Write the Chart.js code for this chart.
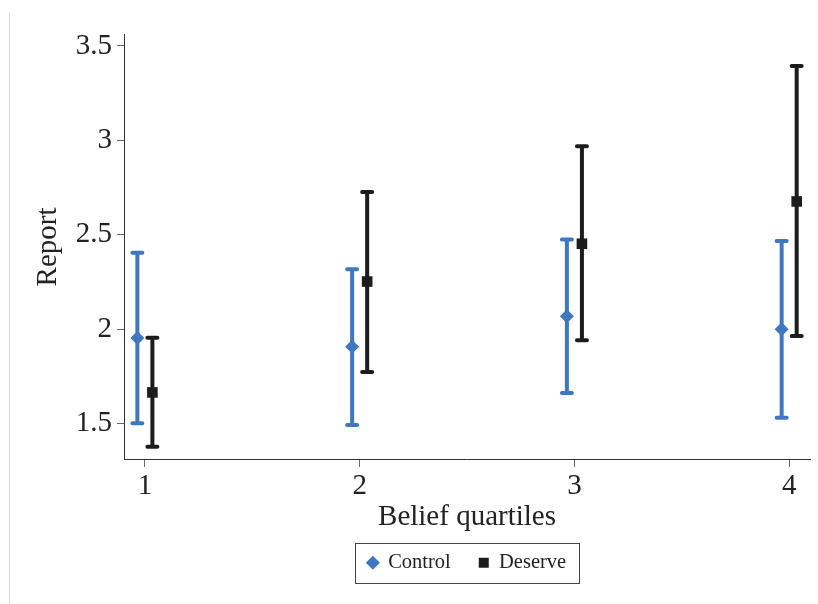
<!DOCTYPE html>
<html>
<head>
<meta charset="utf-8">
<script src="https://cdn.jsdelivr.net/npm/chart.js@4.4.0/dist/chart.umd.min.js"></script>
<style>
  body { margin: 0; background: #fff; }
  #wrap { position: relative; width: 818px; height: 604px; }
  #edge { position: absolute; left: 9px; top: 12px; bottom: 0; border-left: 1px solid #dcdcdc; }
</style>
</head>
<body>
<div id="wrap">
  <div id="edge"></div>
  <canvas id="chart"></canvas>
</div>
<script>
// values
const quartiles = [1, 2, 3, 4];
const yTicks = [1.5, 2, 2.5, 3, 3.5];

const controlMean = [1.954, 1.908, 2.069, 2.000];
const controlLow  = [1.503, 1.494, 1.663, 1.532];
const controlHigh = [2.405, 2.318, 2.476, 2.467];

const deserveMean = [1.666, 2.253, 2.453, 2.677];
const deserveLow  = [1.378, 1.774, 1.942, 1.965];
const deserveHigh = [1.956, 2.727, 2.969, 3.394];

const blue = '#3f77c0';
const black = '#1c1c1c';
const shift = 0.035;
const serif = 'Liberation Serif';

// error bars drawn through the scales
const errorBars = {
    id: 'errorBars',
    beforeDatasetsDraw(chart) {
        const ctx = chart.ctx;
        const ys = chart.scales.y;
        chart.data.datasets.forEach((ds, di) => {
            const meta = chart.getDatasetMeta(di);
            meta.data.forEach((pt, i) => {
                const top = ys.getPixelForValue(ds.high[i]);
                const bot = ys.getPixelForValue(ds.low[i]);
                ctx.save();
                ctx.strokeStyle = ds.borderColor;
                ctx.lineWidth = 4;
                ctx.lineCap = 'butt';
                ctx.beginPath();
                ctx.moveTo(pt.x, top);
                ctx.lineTo(pt.x, bot);
                ctx.stroke();
                ctx.lineCap = 'round';
                ctx.beginPath();
                ctx.moveTo(pt.x - 5, top);
                ctx.lineTo(pt.x + 5, top);
                ctx.moveTo(pt.x - 5, bot);
                ctx.lineTo(pt.x + 5, bot);
                ctx.stroke();
                ctx.restore();
            });
        });
    }
};

// frame round the legend
const legendFrame = {
    id: 'legendFrame',
    afterDraw(chart) {
        const boxes = chart.legend && chart.legend.legendHitBoxes;
        if (!boxes || !boxes.length) return;
        let x0 = Infinity, x1 = -Infinity, y0 = Infinity, y1 = -Infinity;
        boxes.forEach((b) => {
            x0 = Math.min(x0, b.left); x1 = Math.max(x1, b.left + b.width);
            y0 = Math.min(y0, b.top); y1 = Math.max(y1, b.top + b.height);
        });
        const ctx = chart.ctx;
        ctx.save();
        ctx.strokeStyle = '#444';
        ctx.lineWidth = 1;
        ctx.strokeRect(Math.round(x0 - 13) + 0.5, Math.round(y0 - 10) + 0.5,
                       Math.round(x1 - x0 + 26), Math.round(y1 - y0 + 19));
        ctx.restore();
    }
};

new Chart(document.getElementById('chart'), {
    type: 'scatter',
    data: {
        datasets: [
            {
                label: 'Control',
                data: quartiles.map((q, i) => ({ x: q - shift, y: controlMean[i] })),
                low: controlLow,
                high: controlHigh,
                backgroundColor: blue,
                borderColor: blue,
                pointStyle: 'rectRot',
                pointRadius: 7,
                pointBorderWidth: 0,
            },
            {
                label: 'Deserve',
                data: quartiles.map((q, i) => ({ x: q + shift, y: deserveMean[i] })),
                low: deserveLow,
                high: deserveHigh,
                backgroundColor: black,
                borderColor: black,
                pointStyle: 'rect',
                pointRadius: 7.5,
                pointBorderWidth: 0,
            },
        ],
    },
    options: {
        responsive: true,
        maintainAspectRatio: false,
        animation: false,
        layout: { padding: { top: 34, right: 8, left: 28, bottom: 21 } },
        scales: {
            x: {
                type: 'linear',
                min: 0.903,
                max: 4.097,
                afterBuildTicks: (s) => { s.ticks = quartiles.map((v) => ({ value: v })); },
                grid: { drawOnChartArea: false, drawTicks: true, tickLength: 7, color: '#666' },
                border: { display: true, color: '#333', width: 1 },
                ticks: { font: { family: serif, size: 29 }, color: '#222', padding: 2 },
                title: {
                    display: true,
                    text: 'Belief quartiles',
                    font: { family: serif, size: 29 },
                    color: '#222',
                    padding: { top: -6, bottom: -10 },
                },
            },
            y: {
                min: 1.3088,
                max: 3.5634,
                afterBuildTicks: (s) => { s.ticks = yTicks.map((v) => ({ value: v })); },
                grid: { drawOnChartArea: false, drawTicks: true, tickLength: 7, color: '#666' },
                border: { display: true, color: '#333', width: 1 },
                ticks: {
                    font: { family: serif, size: 29 },
                    color: '#222',
                    padding: 5,
                    callback: (v) => String(v),
                },
                title: {
                    display: true,
                    text: 'Report',
                    font: { family: serif, size: 29 },
                    color: '#222',
                    padding: { top: 3, bottom: 5 },
                },
            },
        },
        plugins: {
            legend: {
                position: 'bottom',
                fullSize: false,
                labels: {
                    usePointStyle: true,
                    boxWidth: 10,
                    boxHeight: 10,
                    padding: 28,
                    color: '#222',
                    font: { family: serif, size: 20.5 },
                },
            },
            tooltip: { enabled: false },
        },
    },
    plugins: [errorBars, legendFrame],
});
</script>
</body>
</html>
